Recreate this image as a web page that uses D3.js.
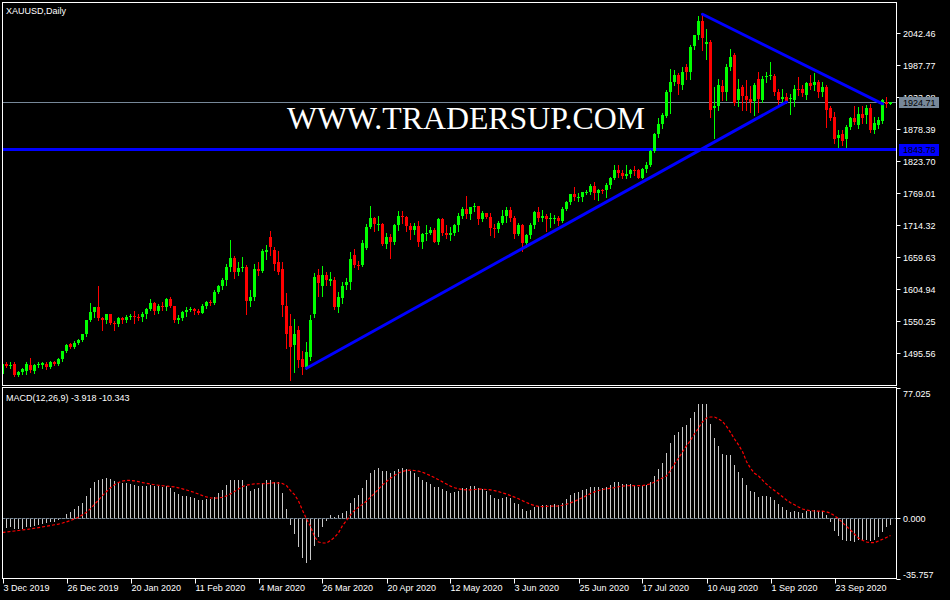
<!DOCTYPE html>
<html><head><meta charset="utf-8">
<script src="https://cdn.jsdelivr.net/npm/d3@7"></script>
<style>html,body{margin:0;padding:0;background:#000;overflow:hidden}svg{display:block}</style>
</head><body>
<svg id="c" width="950" height="600"></svg>
<script>
const symbolTitle = "XAUUSD,Daily";
const watermark = "WWW.TRADERSUP.COM";
const dateTickLabels = ["3 Dec 2019","26 Dec 2019","20 Jan 2020","11 Feb 2020","4 Mar 2020","26 Mar 2020","20 Apr 2020","12 May 2020","3 Jun 2020","25 Jun 2020","17 Jul 2020","10 Aug 2020","1 Sep 2020","23 Sep 2020"];
const dateTickBars = [0,16,32,48,64,80,96,112,128,144,160,176,192,208];
const priceTicks = [2042.46,1987.77,1933.08,1878.39,1823.70,1769.01,1714.32,1659.63,1604.94,1550.25,1495.56];
const macdTicks = [77.025, 0, -35.757];
const bidPrice = 1924.71;
const supportLevel = 1843.78;
const lowerTrend = [[76,1470],[196,1925]];
const upperTrend = [[175,2075],[220,1922]];

const opens = [
1461,1477,1474,1478,1458,1463,1465,1476,1466,1475,
1476,1478,1473,1480,1478,1485,1499,1511,1507,1514,
1518,1528,1552,1566,1574,1556,1552,1562,1548,1545,
1556,1552,1557,1560,1558,1557,1563,1571,1582,1567,
1577,1575,1589,1576,1552,1556,1566,1570,1572,1568,
1565,1576,1584,1581,1601,1611,1620,1643,1658,1635,
1641,1643,1585,1592,1640,1636,1668,1695,1672,1651,
1640,1576,1543,1509,1536,1485,1472,1489,1563,1630,
1610,1630,1619,1621,1575,1590,1612,1617,1663,1647,
1646,1675,1712,1727,1716,1717,1683,1695,1686,1714,
1731,1729,1713,1706,1713,1686,1700,1702,1706,1686,
1725,1702,1697,1701,1715,1730,1743,1733,1745,1747,
1725,1735,1729,1709,1708,1719,1730,1740,1726,1700,
1714,1684,1698,1715,1737,1727,1730,1725,1726,1727,
1722,1742,1754,1768,1762,1762,1771,1772,1781,1769,
1775,1774,1783,1795,1809,1803,1798,1802,1809,1808,
1796,1810,1817,1842,1871,1888,1901,1942,1959,1971,
1954,1985,1976,2020,2039,2063,2024,2028,1915,1918,
1952,1942,1985,2005,1928,1950,1936,1931,1927,1965,
1928,1968,1969,1969,1942,1931,1933,1931,1929,1947,
1948,1937,1957,1954,1959,1942,1950,1915,1900,1864,
1871,1862,1882,1898,1885,1904,1902,1914,1877,1885,
1893,1925,1922];
const highs = [
1479,1481,1481,1480,1465,1470,1480,1487,1478,1481,
1481,1481,1483,1482,1487,1500,1512,1514,1516,1520,
1529,1553,1582,1575,1611,1558,1563,1563,1551,1558,
1557,1561,1563,1568,1562,1566,1573,1588,1583,1580,
1584,1590,1592,1577,1561,1568,1575,1575,1573,1572,
1580,1585,1586,1604,1612,1624,1649,1689,1661,1651,
1660,1646,1604,1649,1652,1673,1680,1704,1677,1671,
1651,1598,1562,1554,1542,1500,1515,1561,1633,1639,
1644,1635,1634,1626,1601,1618,1625,1669,1673,1654,
1690,1716,1747,1729,1731,1718,1702,1699,1716,1739,
1738,1730,1718,1718,1722,1702,1715,1712,1710,1727,
1727,1715,1712,1717,1735,1745,1765,1746,1752,1748,
1738,1736,1735,1716,1722,1740,1745,1745,1730,1718,
1717,1700,1718,1739,1745,1740,1734,1736,1732,1731,
1746,1756,1768,1779,1769,1772,1775,1785,1789,1776,
1777,1786,1797,1818,1818,1809,1817,1810,1816,1810,
1812,1822,1843,1872,1898,1906,1945,1981,1980,1974,
1985,1990,2022,2040,2072,2076,2049,2031,1950,1965,
1962,1990,2015,2009,1965,1954,1962,1953,1957,1976,
1970,1976,1993,1973,1948,1948,1940,1939,1954,1967,
1954,1960,1972,1974,1962,1959,1954,1919,1908,1877,
1877,1885,1899,1918,1917,1918,1920,1922,1899,1900,
1931,1934,1925];
const lows = [
1459,1472,1471,1456,1456,1461,1461,1463,1462,1472,
1471,1468,1471,1476,1476,1483,1498,1505,1504,1512,
1516,1525,1551,1558,1553,1535,1548,1545,1536,1542,
1547,1549,1555,1547,1552,1550,1556,1570,1563,1565,
1570,1570,1574,1549,1548,1553,1560,1567,1563,1562,
1564,1573,1578,1580,1599,1605,1613,1636,1625,1630,
1636,1563,1577,1586,1629,1634,1656,1664,1638,1631,
1560,1504,1450,1464,1472,1460,1468,1484,1557,1593,
1594,1612,1612,1572,1566,1582,1606,1606,1643,1640,
1644,1673,1710,1705,1706,1681,1675,1659,1682,1706,
1719,1705,1691,1700,1679,1676,1690,1700,1685,1683,
1698,1692,1690,1697,1705,1727,1726,1725,1739,1716,
1722,1726,1698,1694,1703,1716,1720,1721,1693,1697,
1670,1677,1692,1709,1722,1722,1705,1712,1718,1714,
1720,1741,1751,1757,1756,1755,1767,1767,1760,1757,
1769,1763,1778,1793,1797,1795,1796,1797,1801,1795,
1795,1806,1815,1840,1865,1881,1900,1906,1954,1938,
1947,1964,1965,2015,2033,2014,1999,1899,1863,1911,
1928,1928,1980,1920,1918,1911,1911,1908,1902,1908,
1925,1959,1964,1937,1922,1925,1924,1905,1918,1937,
1936,1930,1948,1946,1934,1935,1882,1894,1855,1848,
1851,1848,1879,1888,1880,1889,1889,1874,1872,1881,
1889,1917,1921];
const closes = [
1477,1474,1476,1458,1463,1468,1478,1467,1476,1478,
1479,1473,1480,1478,1485,1499,1510,1506,1514,1518,
1528,1552,1566,1574,1556,1552,1562,1548,1545,1556,
1552,1557,1560,1558,1557,1563,1571,1582,1567,1577,
1575,1589,1576,1552,1556,1566,1570,1572,1568,1565,
1576,1584,1581,1601,1611,1620,1643,1658,1635,1641,
1643,1585,1592,1640,1636,1671,1672,1677,1649,1635,
1578,1529,1507,1528,1484,1472,1498,1552,1626,1616,
1629,1620,1622,1575,1592,1611,1617,1657,1647,1645,
1684,1712,1727,1716,1717,1683,1695,1686,1714,1731,
1729,1713,1706,1713,1686,1700,1702,1706,1686,1725,
1702,1697,1701,1715,1730,1743,1733,1745,1747,1725,
1735,1729,1709,1708,1719,1730,1740,1726,1700,1714,
1684,1698,1715,1737,1727,1730,1725,1726,1727,1722,
1742,1754,1768,1762,1762,1771,1772,1781,1769,1775,
1774,1783,1795,1809,1803,1798,1802,1809,1808,1796,
1810,1817,1842,1871,1888,1902,1942,1959,1971,1956,
1976,1976,2019,2039,2063,2035,2028,1911,1919,1954,
1942,1985,2002,1923,1948,1935,1928,1925,1954,1931,
1965,1969,1971,1942,1928,1933,1927,1932,1948,1946,
1940,1957,1952,1959,1942,1950,1911,1898,1861,1868,
1858,1882,1897,1891,1905,1898,1915,1877,1889,1895,
1929,1921,1924.71];
const macdMain = [
-6.0,-5.8,-5.5,-6.3,-6.5,-6.3,-5.5,-5.3,-4.6,-4.0,
-3.4,-3.2,-2.6,-2.2,-1.4,0.2,2.4,3.8,5.4,6.9,
9.0,13.0,17.5,21.0,22.5,23.0,23.5,22.8,21.8,21.5,
20.8,20.5,20.2,19.6,18.9,18.7,19.0,19.5,18.8,18.6,
18.1,18.8,17.9,15.6,13.9,13.2,12.7,12.2,11.5,10.8,
10.6,11.0,11.2,12.6,14.5,16.6,19.7,22.6,22.5,22.6,
22.7,18.6,16.0,17.3,17.8,20.5,22.2,22.5,21.4,21.4,
14.5,5.0,-4.3,-9.2,-17.1,-23.4,-26.6,-25.0,-16.7,-11.2,
-5.3,-1.7,1.7,0.7,1.7,2.7,4.2,9.0,11.6,13.7,
17.7,22.5,26.5,28.5,29.5,28.0,27.5,26.5,27.5,29.0,
29.5,29.0,27.5,26.5,24.0,22.5,21.0,20.0,18.0,18.5,
17.2,15.8,15.0,15.2,16.2,17.6,17.8,18.6,19.0,17.4,
16.8,15.8,13.6,11.8,11.3,11.5,12.2,11.5,9.0,8.0,
5.2,4.3,4.8,6.7,7.3,7.8,7.8,7.9,8.0,7.6,
9.0,11.0,13.5,14.8,15.6,16.5,17.0,18.3,18.0,18.0,
17.8,18.4,19.6,21.0,21.0,20.3,19.8,19.9,19.5,18.3,
19.1,19.5,21.3,24.8,29.0,32.5,38.5,44.4,49.1,50.9,
53.9,55.1,59.2,62.8,67.5,67.5,67.0,55.7,47.4,42.6,
37.9,37.3,37.3,31.3,27.2,23.6,19.5,15.9,15.3,12.3,
12.8,12.8,12.6,10.5,8.0,6.2,4.8,3.7,3.9,3.8,
3.2,4.0,4.3,4.8,4.2,4.0,1.5,-2.5,-7.5,-10.5,
-13.0,-13.8,-13.5,-14.0,-13.2,-13.2,-13.2,-13.8,-13.2,-11.2,
-8.2,-5.5,-3.918];
const macdSignal = [
-8.6,-8.3,-8.0,-7.7,-7.4,-7.1,-6.8,-6.5,-6.1,-5.7,
-5.3,-4.9,-4.5,-4.0,-3.6,-3.0,-2.3,-1.5,-0.6,0.5,
1.8,3.4,5.5,8.0,10.6,13.2,15.6,17.8,19.6,20.9,
21.8,22.2,22.2,21.9,21.4,20.9,20.4,20.0,19.6,19.3,
19.0,18.8,18.6,18.3,17.8,17.2,16.5,15.8,15.0,14.1,
13.2,12.4,11.9,11.7,11.8,12.2,13.0,14.2,15.6,17.1,
18.5,19.3,19.8,20.1,20.2,20.2,20.3,20.5,20.8,20.6,
20.3,19.1,16.1,13.8,10.0,4.5,-0.5,-5.0,-11.0,-14.2,
-14.8,-14.8,-13.3,-11.5,-8.8,-4.5,-1.5,1.8,4.5,6.3,
8.0,10.0,12.2,14.5,17.0,19.5,21.5,23.5,25.0,26.5,
27.5,28.0,28.2,28.0,27.6,27.0,26.0,25.0,23.8,22.6,
21.3,20.0,18.8,17.8,17.2,16.8,16.6,16.6,16.8,17.0,
17.0,16.8,16.6,16.1,15.5,14.8,14.1,13.2,12.3,11.3,
10.2,9.1,8.1,7.3,6.8,6.7,6.8,7.0,7.0,7.1,
7.5,8.1,8.9,9.8,10.9,12.0,13.2,14.4,15.4,16.2,
16.8,17.2,17.5,17.9,18.4,18.8,19.0,19.1,19.1,19.1,
19.1,19.6,20.1,21.2,22.4,23.6,24.8,28.0,31.9,35.3,
39.0,42.6,45.8,49.7,53.1,56.7,59.0,59.6,59.6,58.5,
57.0,54.1,50.5,46.6,43.2,39.2,33.3,29.4,26.4,24.8,
22.3,20.0,17.9,16.2,14.4,12.5,10.6,9.0,7.8,6.5,
5.3,4.7,4.3,4.1,4.0,4.0,3.6,2.8,1.3,-0.4,
-2.8,-5.0,-7.1,-9.6,-11.8,-13.2,-14.2,-14.6,-14.6,-13.6,
-12.6,-11.5,-10.343];

// ---------- layout ----------
const W = 950, H = 600;
const paneL = 2.5, paneR = 896.5;
const mainTop = 2.5, mainBot = 385.5;
const macdTop = 387.5, macdBot = 578.5;
const FONT = "'Liberation Sans', Arial, sans-serif";
const FS = 9;

const svg = d3.select("#c");
svg.append("rect").attr("width", W).attr("height", H).attr("fill", "#000");

const n = closes.length;
const x = d3.scaleLinear().domain([0, n - 1]).range([2.5, 2.5 + 4 * (n - 1)]);
const y = d3.scaleLinear().domain([1495.56, 2042.46]).range([353.3, 33.3]);
const ym = d3.scaleLinear().domain([-35.757, 77.025]).range([macdBot, macdTop]);

const defs = svg.append("defs");
defs.append("clipPath").attr("id", "clipMain").append("rect")
  .attr("x", paneL + 0.5).attr("y", mainTop + 0.5).attr("width", paneR - paneL - 1).attr("height", mainBot - mainTop - 1);
defs.append("clipPath").attr("id", "clipMacd").append("rect")
  .attr("x", paneL + 0.5).attr("y", macdTop + 0.5).attr("width", paneR - paneL - 1).attr("height", macdBot - macdTop - 1);

// ---------- main pane ----------
const gMain = svg.append("g").attr("clip-path", "url(#clipMain)");

// watermark
gMain.append("text").attr("x", 287).attr("y", 129)
  .attr("font-family", "'Liberation Serif', 'Times New Roman', serif").attr("font-size", 32)
  .attr("fill", "#ffffff").attr("textLength", 358).attr("lengthAdjust", "spacingAndGlyphs")
  .text(watermark);

// support line
const ySup = y(supportLevel);
gMain.append("line").attr("x1", paneL).attr("x2", paneR).attr("y1", ySup).attr("y2", ySup)
  .attr("stroke", "#0000ff").attr("stroke-width", 3);

// bid line
const yBid = Math.round(y(bidPrice)) + 0.5;
gMain.append("line").attr("x1", paneL).attr("x2", paneR).attr("y1", yBid).attr("y2", yBid)
  .attr("stroke", "#778899").attr("stroke-width", 1);

// candles
const idx = d3.range(n);
const upC = "#00ff00", dnC = "#ff0000";
const colorOf = i => closes[i] >= opens[i] ? upC : dnC;
gMain.append("g").selectAll("line").data(idx).join("line")
  .attr("x1", i => x(i)).attr("x2", i => x(i))
  .attr("y1", i => Math.round(y(highs[i]))).attr("y2", i => Math.round(y(lows[i])) + 1)
  .attr("stroke", colorOf).attr("stroke-width", 1);
gMain.append("g").selectAll("rect").data(idx).join("rect")
  .attr("x", i => x(i) - 1.5).attr("width", 3)
  .attr("y", i => Math.round(y(Math.max(opens[i], closes[i]))))
  .attr("height", i => Math.max(1, Math.round(y(Math.min(opens[i], closes[i]))) - Math.round(y(Math.max(opens[i], closes[i])))))
  .attr("fill", colorOf);

// trend lines
[lowerTrend, upperTrend].forEach(t => {
  gMain.append("line")
    .attr("x1", x(t[0][0])).attr("y1", y(t[0][1]))
    .attr("x2", x(t[1][0])).attr("y2", y(t[1][1]))
    .attr("stroke", "#0000ff").attr("stroke-width", 3).attr("stroke-linecap", "round");
});

// title
svg.append("text").attr("x", 6).attr("y", 14).attr("font-family", FONT).attr("font-size", FS)
  .attr("fill", "#fff").text(symbolTitle);

// frames
svg.append("rect").attr("x", paneL).attr("y", mainTop).attr("width", paneR - paneL).attr("height", mainBot - mainTop)
  .attr("fill", "none").attr("stroke", "#fff").attr("stroke-width", 1);
svg.append("rect").attr("x", paneL).attr("y", macdTop).attr("width", paneR - paneL).attr("height", macdBot - macdTop)
  .attr("fill", "none").attr("stroke", "#fff").attr("stroke-width", 1);

// price axis
const gAx = svg.append("g");
priceTicks.forEach(p => {
  const yy = Math.round(y(p)) + 0.5;
  gAx.append("line").attr("x1", paneR).attr("x2", paneR + 4).attr("y1", yy).attr("y2", yy).attr("stroke", "#fff");
  gAx.append("text").attr("x", 903).attr("y", yy).attr("dy", "0.35em").attr("font-family", FONT)
    .attr("font-size", FS).attr("fill", "#fff").text(p.toFixed(2));
});
// bid label
gAx.append("rect").attr("x", 899).attr("y", yBid - 5.5).attr("width", 40).attr("height", 11).attr("fill", "#778899");
gAx.append("text").attr("x", 903).attr("y", yBid).attr("dy", "0.35em").attr("font-family", FONT)
  .attr("font-size", FS).attr("fill", "#000").text(bidPrice.toFixed(2));
// support label
gAx.append("rect").attr("x", 899).attr("y", Math.round(ySup) - 6).attr("width", 40).attr("height", 12).attr("fill", "#0000ff");
gAx.append("text").attr("x", 903).attr("y", Math.round(ySup)).attr("dy", "0.35em").attr("font-family", FONT)
  .attr("font-size", FS).attr("fill", "#000").text(supportLevel.toFixed(2));

// ---------- MACD pane ----------
const gM = svg.append("g").attr("clip-path", "url(#clipMacd)");
const y0 = Math.round(ym(0)) + 0.5;
gM.append("line").attr("x1", paneL).attr("x2", paneR).attr("y1", y0).attr("y2", y0)
  .attr("stroke", "#778899").attr("stroke-dasharray", "3,1");
gM.append("g").selectAll("line").data(idx).join("line")
  .attr("x1", i => x(i)).attr("x2", i => x(i))
  .attr("y1", y0).attr("y2", i => Math.round(ym(macdMain[i])))
  .attr("stroke", "#c8c8c8").attr("stroke-width", 1);
gM.append("path").datum(idx)
  .attr("d", d3.line().x(i => x(i)).y(i => ym(macdSignal[i])))
  .attr("fill", "none").attr("stroke", "#ff0000").attr("stroke-width", 1.2).attr("stroke-dasharray", "3,2");

svg.append("text").attr("x", 6).attr("y", 401).attr("font-family", FONT).attr("font-size", FS)
  .attr("fill", "#fff")
  .text(`MACD(12,26,9) ${macdMain[n - 1].toFixed(3)} ${macdSignal[n - 1].toFixed(3)}`);

macdTicks.forEach(v => {
  const yy = Math.round(ym(v)) + 0.5;
  gAx.append("line").attr("x1", paneR).attr("x2", paneR + 4).attr("y1", yy).attr("y2", yy).attr("stroke", "#fff");
  let ty = yy;
  if (yy - macdTop < 6) ty = yy + 5;
  if (macdBot - yy < 6) ty = yy - 5;
  gAx.append("text").attr("x", 903).attr("y", ty).attr("dy", "0.35em").attr("font-family", FONT)
    .attr("font-size", FS).attr("fill", "#fff").text(v.toFixed(3));
});

// ---------- time axis ----------
dateTickBars.forEach((b, k) => {
  const xx = Math.round(x(b)) + 0.5;
  svg.append("line").attr("x1", xx).attr("x2", xx).attr("y1", macdBot).attr("y2", macdBot + 5).attr("stroke", "#fff");
  svg.append("text").attr("x", xx).attr("y", 591).attr("font-family", FONT).attr("font-size", FS)
    .attr("fill", "#fff").text(dateTickLabels[k]);
});
</script>
</body></html>
